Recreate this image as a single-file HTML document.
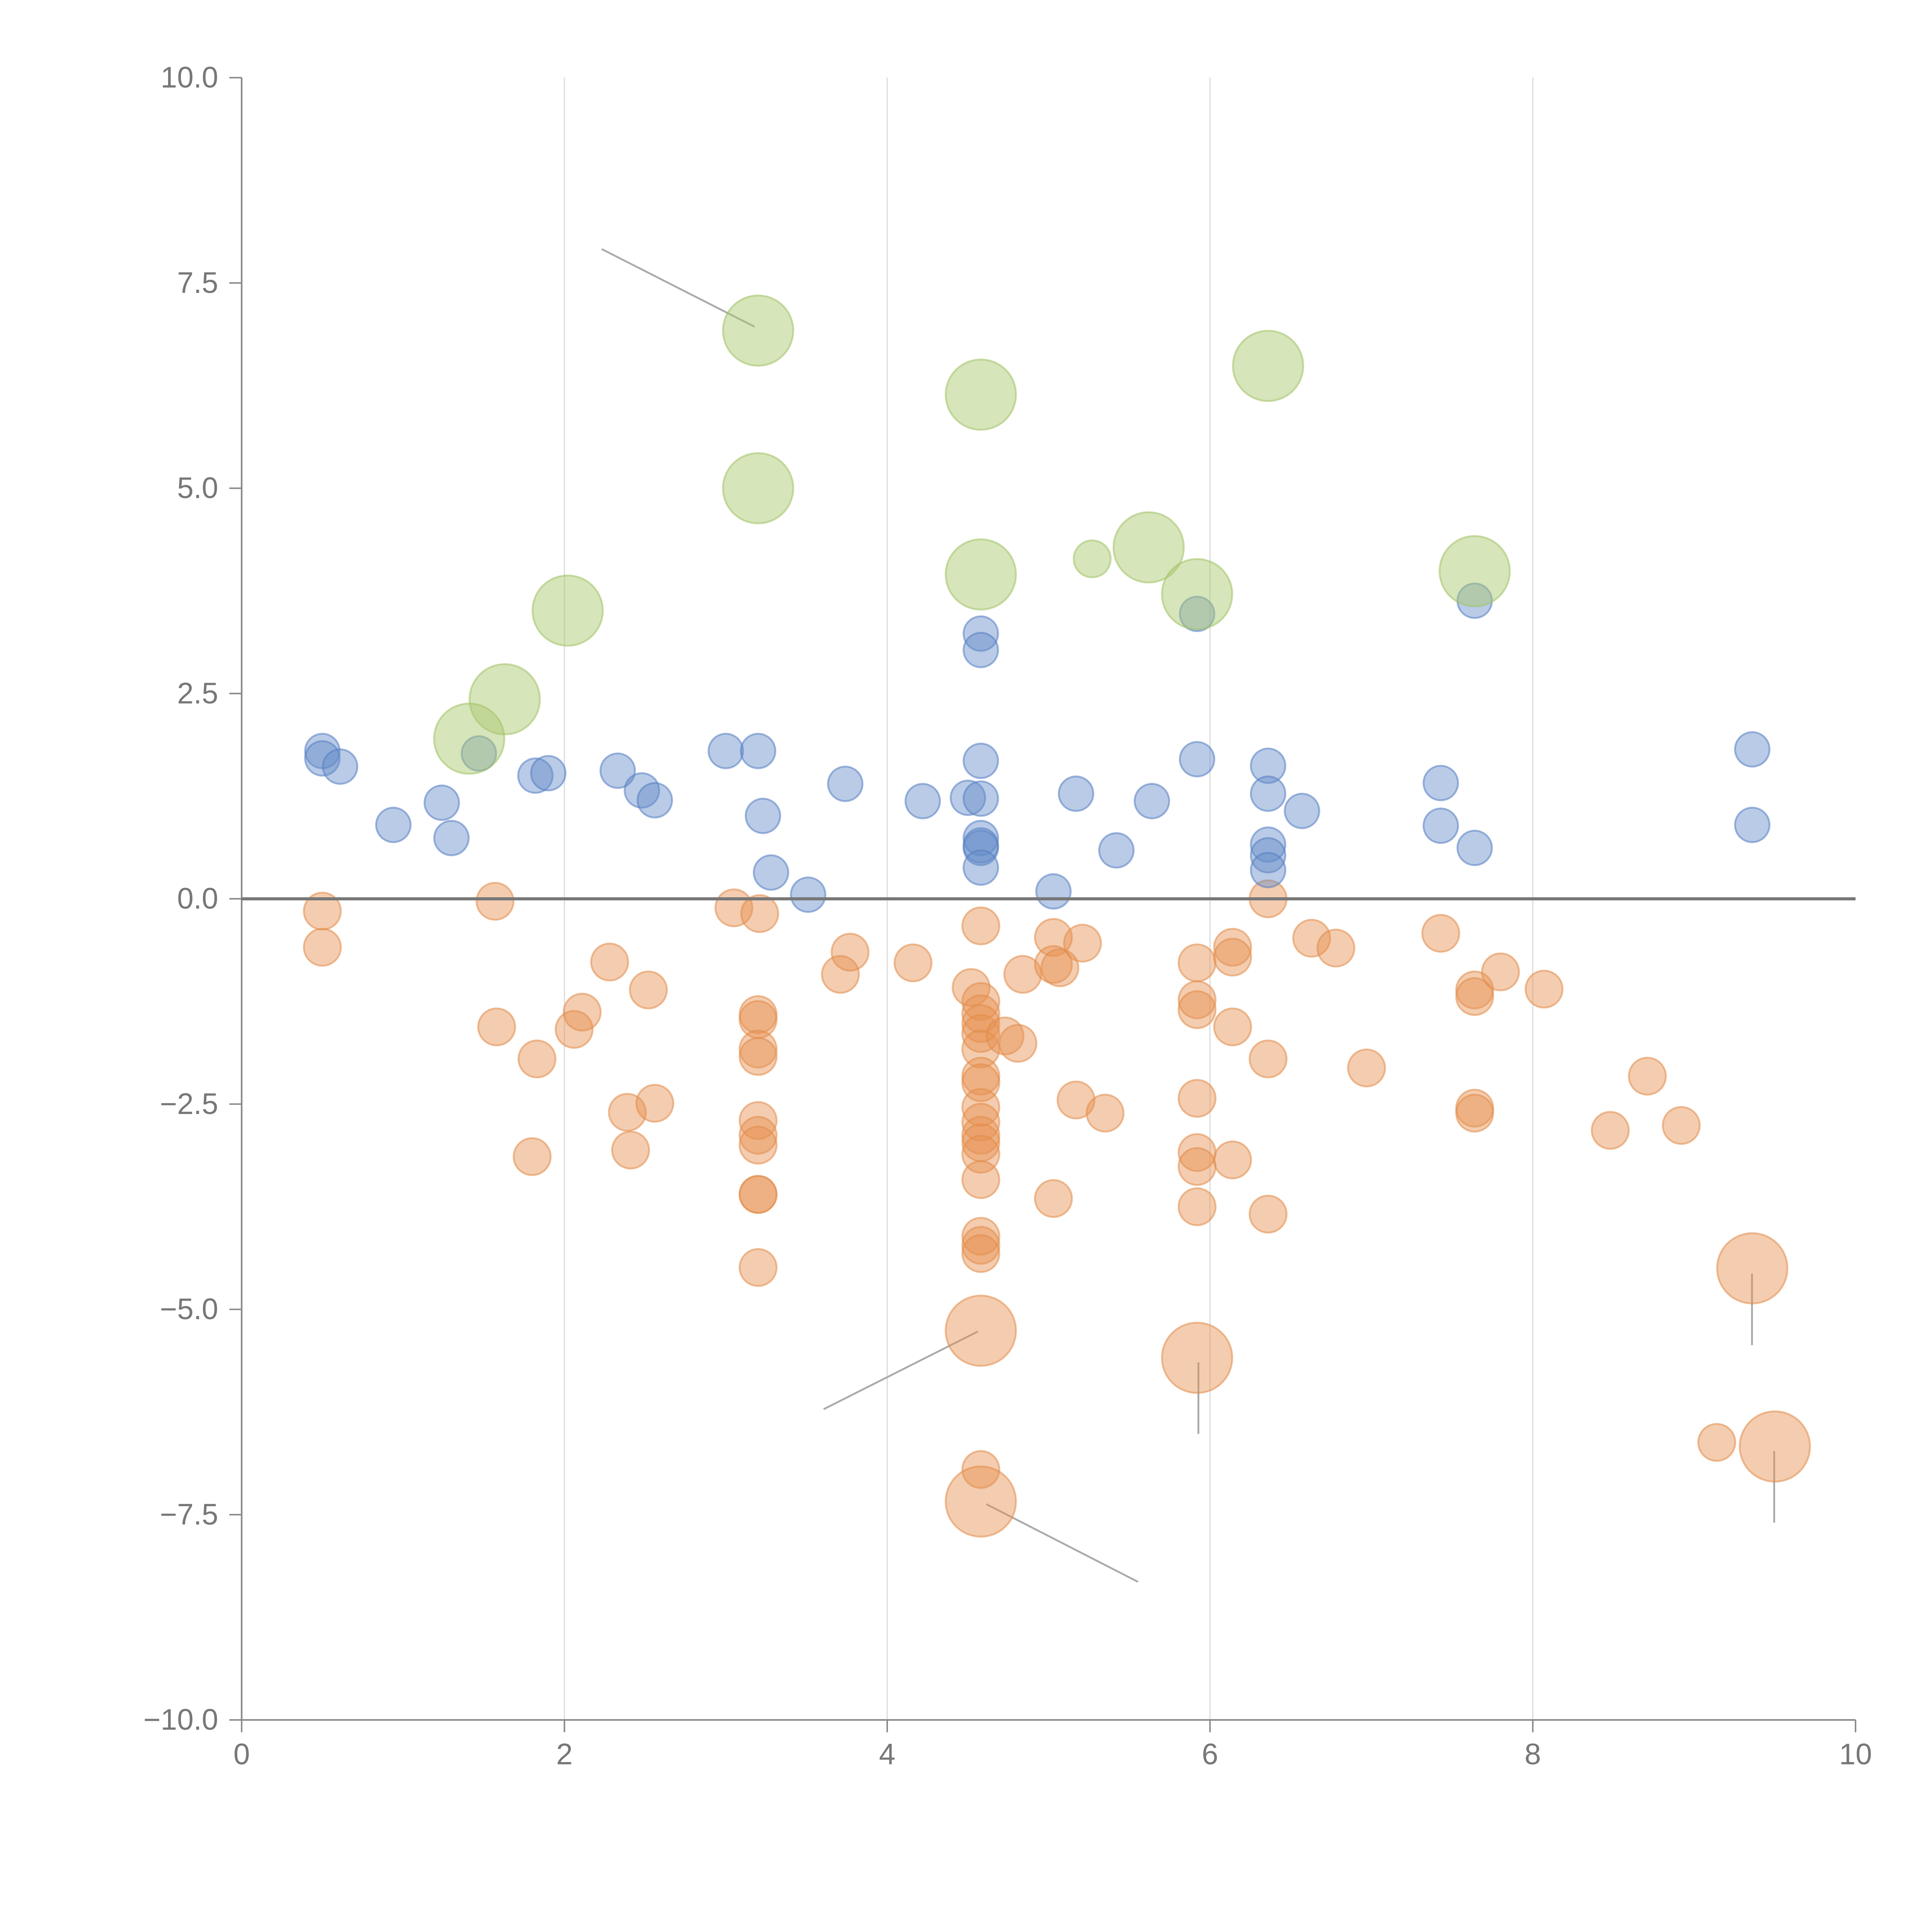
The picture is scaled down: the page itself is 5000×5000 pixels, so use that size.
<!DOCTYPE html>
<html><head><meta charset="utf-8"><style>
html,body{margin:0;padding:0;background:#fff;}
svg{display:block;}
text{font-family:"Liberation Sans",sans-serif;fill:#777;}
</style></head><body>
<svg id="chart" width="5000" height="5000" viewBox="0 0 1567 1567" xmlns="http://www.w3.org/2000/svg">
<g id="grid"></g>
<g id="annot"></g>
<g id="marks"></g>
<g id="axes"></g>
</svg>
<script>
const xTicks=[0,2,4,6,8,10];
const yTicks=[10,7.5,5,2.5,0,-2.5,-5,-7.5,-10];
const yTickLabels=["10.0","7.5","5.0","2.5","0.0","\u22122.5","\u22125.0","\u22127.5","\u221210.0"];
const greenX=[3.20,4.58,6.36,3.20,5.62,5.27,4.58,5.92,7.64,2.02,1.63,1.41];
const greenY=[6.92,6.14,6.49,5.00,4.28,4.14,3.95,3.71,3.99,3.51,2.43,1.95];
const greenS=[2,2,2,2,2,1,2,2,2,2,2,2];
const blueX=[0.50,0.50,0.61,0.94,1.24,1.30,1.47,1.82,1.90,2.33,2.48,2.56,3.00,3.20,3.23,3.28,3.51,3.74,4.22,4.50,4.58,4.58,4.58,4.58,4.58,4.58,4.58,4.58,5.03,5.17,5.42,5.64,5.92,5.92,6.36,6.36,6.36,6.36,6.36,6.57,7.43,7.43,7.64,7.64,9.36,9.36];
const blueY=[1.80,1.71,1.61,0.90,1.17,0.74,1.77,1.50,1.53,1.56,1.32,1.20,1.80,1.80,1.01,0.32,0.05,1.40,1.19,1.23,3.23,3.03,1.68,1.22,0.74,0.62,0.65,0.38,0.09,1.28,0.59,1.19,3.47,1.70,1.62,1.28,0.66,0.53,0.35,1.07,1.41,0.89,3.63,0.62,1.82,0.90];
const orangeX=[0.50,0.50,1.57,1.58,1.83,1.80,2.06,2.11,2.28,2.39,2.41,2.52,2.56,3.05,3.21,3.20,3.20,3.20,3.20,3.20,3.20,3.20,3.20,3.20,3.20,3.71,3.77,4.16,4.52,4.58,4.58,4.58,4.58,4.58,4.58,4.58,4.58,4.58,4.58,4.58,4.58,4.58,4.58,4.58,4.58,4.58,4.58,4.73,4.81,4.84,5.03,5.03,5.07,5.21,5.17,5.35,5.03,5.92,5.92,5.92,5.92,5.92,5.92,5.92,6.14,6.14,6.14,6.14,6.36,6.36,6.36,6.63,6.78,6.97,7.43,7.64,7.64,7.64,7.64,7.80,8.07,8.48,8.71,8.92,9.14,4.58,5.92,9.36,9.50,4.58];
const orangeY=[-0.15,-0.59,-0.03,-1.56,-1.95,-3.14,-1.59,-1.38,-0.77,-2.60,-3.06,-1.11,-2.49,-0.11,-0.18,-1.41,-1.47,-1.83,-1.92,-2.70,-2.88,-3.00,-3.60,-3.60,-4.49,-0.92,-0.65,-0.78,-1.08,-0.33,-1.25,-1.40,-1.52,-1.64,-1.83,-2.16,-2.24,-2.54,-2.72,-2.88,-2.97,-3.11,-3.42,-4.11,-4.22,-4.32,-6.95,-1.67,-1.76,-0.92,-0.47,-0.80,-0.84,-0.54,-2.45,-2.61,-3.65,-0.78,-1.23,-1.35,-2.43,-3.09,-3.26,-3.75,-0.59,-0.71,-1.56,-3.18,0.00,-1.95,-3.84,-0.48,-0.60,-2.06,-0.42,-1.11,-1.19,-2.55,-2.61,-0.89,-1.10,-2.82,-2.16,-2.76,-6.62,-5.26,-5.59,-4.50,-6.67,-7.34];
const orangeS=orangeX.map((_,i)=>i>=85?2:1);
const NS="http://www.w3.org/2000/svg";
const X0=196,X1=1505,Y0=1395,Y1=63;
function sx(v){return X0+(v-0)/(10-0)*(X1-X0);}
function sy(v){return Y0-(v+10)/20*(Y0-Y1);}
function rad(s){return s===2?28.5:(s===1?15:14);}
function mk(tag,attrs,parent){const e=document.createElementNS(NS,tag);for(const k in attrs)e.setAttribute(k,attrs[k]);parent.appendChild(e);return e;}
const grid=document.getElementById('grid'),axes=document.getElementById('axes'),marks=document.getElementById('marks'),annot=document.getElementById('annot');
xTicks.forEach(t=>{
 if(t>0&&t<10){const g=mk('line',{x1:sx(t),x2:sx(t),y1:Y1,y2:Y0,stroke:'#ddd','stroke-width':1},grid);
 
 }
 const tk=mk('line',{x1:sx(t),x2:sx(t),y1:Y0,y2:Y0+10,stroke:'#888','stroke-width':1.2},axes);
 
 
 const tx=mk('text',{x:sx(t),y:Y0+36,'text-anchor':'middle','font-size':24},axes);tx.textContent=t;
 
 
});
yTicks.forEach((t,i)=>{
 const tk=mk('line',{x1:X0-10,x2:X0,y1:sy(t),y2:sy(t),stroke:'#888','stroke-width':1.2},axes);
 
 
 const tx=mk('text',{x:X0-19,y:sy(t)+8,'text-anchor':'end','font-size':24},axes);tx.textContent=yTickLabels[i];
 
 
});
const xa=mk('line',{x1:X0,x2:X1,y1:Y0,y2:Y0,stroke:'#888','stroke-width':1.3},axes);


const ya=mk('line',{x1:X0,x2:X0,y1:Y1,y2:Y0,stroke:'#888','stroke-width':1.3},axes);


const zl=mk('line',{x1:X0,x2:X1,y1:sy(0),y2:sy(0),stroke:'#777','stroke-width':2.5},axes);


[[488,202,612,265],[668,1143,793,1080],[800,1220,923,1283],[972,1105,972,1163],[1421,1033,1421,1091],[1439,1177,1439,1235]].forEach(l=>{
 const a=mk('line',{x1:l[0],y1:l[1],x2:l[2],y2:l[3],stroke:'#aaa','stroke-width':1.5},annot);
 
 
});
function series(xs,ys,ss,fill,stroke,name){
 xs.forEach((v,i)=>{
  const c=mk('circle',{cx:sx(v),cy:sy(ys[i]),r:rad(ss?ss[i]:0),fill:fill,stroke:stroke,'stroke-width':1.5},marks);
  
  
 });
}
series(orangeX,orangeY,orangeS,'rgba(230,145,80,0.45)','rgba(225,140,75,0.55)','orange-bubble');
series(blueX,blueY,null,'rgba(100,140,200,0.45)','rgba(85,125,195,0.55)','blue-bubble');
series(greenX,greenY,greenS,'rgba(170,200,110,0.47)','rgba(160,195,100,0.55)','green-bubble');
</script>
</body></html>
